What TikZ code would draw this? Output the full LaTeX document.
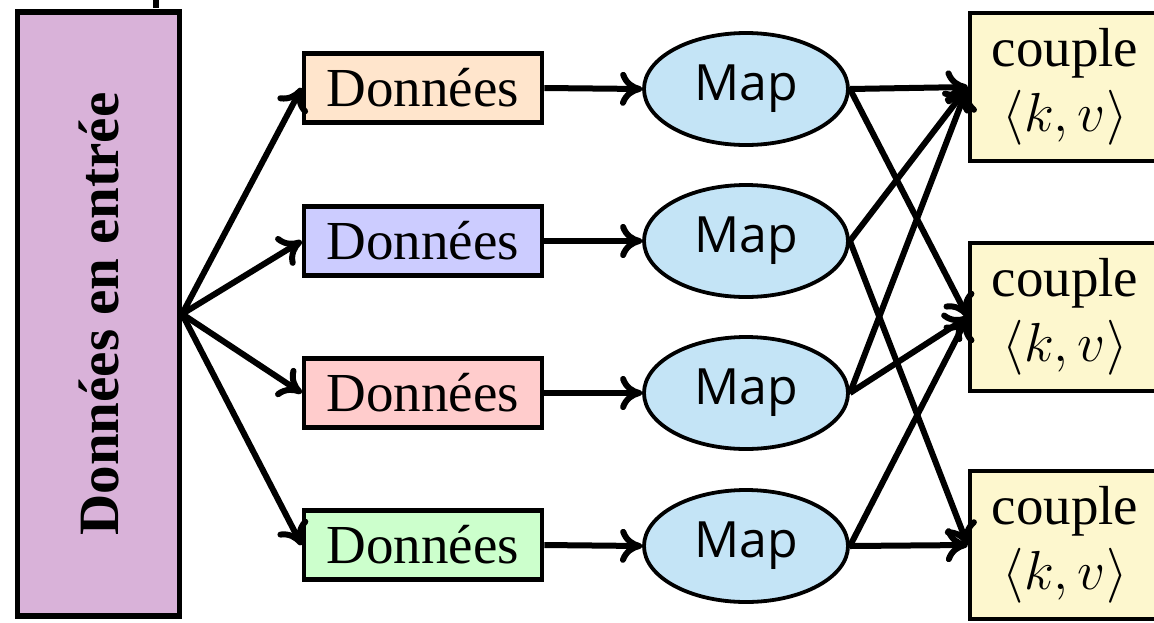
\documentclass[tikz,border=0pt]{standalone}
\usepackage{fix-cm}
\usepackage{fontspec}
\setmainfont{Liberation Serif}
\newfontfamily\mapfont{Open Sans}
\usepackage{graphicx}
\usetikzlibrary{shapes.geometric,arrows.meta}
\definecolor{mapblue}{RGB}{196,228,246}
\definecolor{paircream}{RGB}{253,247,206}

\begin{document}
\begin{tikzpicture}[x=0.5pt,y=-0.5pt,
  font=\fontsize{27.5}{32.5}\selectfont,
  inbox/.style={draw, line width=2.6pt, fill=violet!30, minimum width=81pt,
    minimum height=302pt, inner sep=0pt},
  databox/.style={draw, line width=2.4pt, minimum width=119pt,
    minimum height=34.5pt, inner sep=0pt},
  mapnode/.style={ellipse, draw, line width=1.9pt, fill=mapblue,
    minimum width=102pt, minimum height=56pt, inner sep=0pt,
    font=\mapfont\fontsize{25}{30}\selectfont},
  pairbox/.style={draw, line width=2.3pt, fill=paircream, minimum width=95pt,
    minimum height=74pt, align=center, inner sep=0pt},
  flow/.style={line width=3pt, -{To[length=11pt,width=17pt]}}
]
\clip (0,0) rectangle (1154,622);

% stray tick at the top edge
\draw[line width=3pt] (156,0) -- (156,8);

% input block
\node[inbox] (input) at (98.5,314)
  {\rotatebox{90}{\fontsize{28.5}{34}\selectfont\bfseries Données en entrée}};

% data splits
\node[databox, fill=orange!20] (d1) at (423,88)  {Données};
\node[databox, fill=blue!20]   (d2) at (423,241) {Données};
\node[databox, fill=red!20]    (d3) at (423,393) {Données};
\node[databox, fill=green!20]  (d4) at (423,545) {Données};

% map tasks
\node[mapnode] (m1) at (746,89)  {Map};
\node[mapnode] (m2) at (746,241) {Map};
\node[mapnode] (m3) at (746,393) {Map};
\node[mapnode] (m4) at (746,546) {Map};

% emitted pairs
\node[pairbox] (c1) at (1065,87)  {couple\\$\langle k, v\rangle$};
\node[pairbox] (c2) at (1065,317) {couple\\$\langle k, v\rangle$};
\node[pairbox] (c3) at (1065,545) {couple\\$\langle k, v\rangle$};

% split the input
\foreach \d in {d1,d2,d3,d4}
  \draw[flow] (input.east) -- (\d.west);

% feed each split to its map
\foreach \i in {1,2,3,4}
  \draw[flow] (d\i.east) -- (m\i.west);

% map outputs
\draw[flow] (m1.east) -- (c1.west);
\draw[flow] (m1.east) -- (c2.west);
\draw[flow] (m2.east) -- (c1.west);
\draw[flow] (m2.east) -- (c3.west);
\draw[flow] (m3.east) -- (c1.west);
\draw[flow] (m3.east) -- (c2.west);
\draw[flow] (m4.east) -- (c2.west);
\draw[flow] (m4.east) -- (c3.west);
\end{tikzpicture}
\end{document}
